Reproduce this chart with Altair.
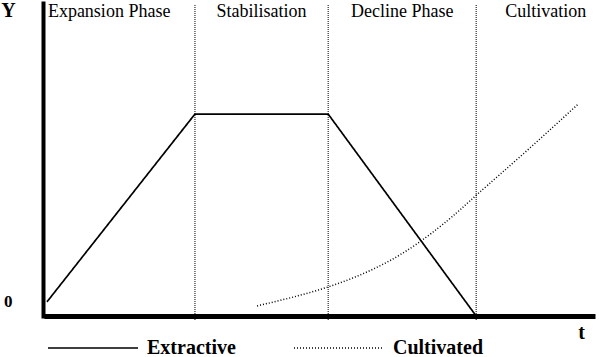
import altair as alt
import pandas as pd

# ---- data ----
phase_bounds = [10, 19, 29]
phase_names = ["Expansion Phase", "Stabilisation", "Decline Phase", "Cultivation"]
phase_label_t = [4.2, 14.5, 24.0, 33.7]

ext_t = [0, 10, 19, 29]
ext_y = [0.7, 10, 10, 0]

cul_t = [14.2, 19.0, 23.6, 27.1, 29.1, 32.4, 35.9]
cul_y = [0.5, 1.44, 2.92, 4.75, 6.04, 8.17, 10.5]

series = ["Extractive", "Cultivated"]
zero_level = 0.7
T_DOMAIN = [-0.2, 37.03]
Y_DOMAIN = [0, 15.5]

FONT = "Liberation Serif"

ext_df = pd.DataFrame({"t": ext_t, "Y": ext_y, "series": "Extractive"})
cul_df = pd.DataFrame({"t": cul_t, "Y": cul_y, "series": "Cultivated"})
bounds_df = pd.DataFrame({"t": phase_bounds})
labels_df = pd.DataFrame({"t": phase_label_t, "name": phase_names})

x_enc = alt.X(
    "t:Q",
    scale=alt.Scale(domain=T_DOMAIN, nice=False, zero=False),
    axis=alt.Axis(
        title="t", labels=False, ticks=False, tickSize=0, grid=False,
        domainColor="black", domainWidth=5,
        titleFont=FONT, titleFontSize=20, titleFontWeight="bold", titleColor="black",
        titleAngle=0, titleX=537, titleY=22, titleBaseline="alphabetic", titleAlign="center",
    ),
)
y_enc = alt.Y(
    "Y:Q",
    scale=alt.Scale(domain=Y_DOMAIN, nice=False),
    axis=alt.Axis(
        title="Y", values=[zero_level], labelExpr="'0'", ticks=False, tickSize=0, grid=False,
        labelPadding=31, labelFont=FONT, labelFontSize=17, labelFontWeight="bold", labelColor="black",
        domainColor="black", domainWidth=4, domainCap="square", offset=1,
        titleFont=FONT, titleFontSize=20, titleFontWeight="bold", titleColor="black",
        titleAngle=0, titleX=-35, titleY=13, titleBaseline="alphabetic", titleAlign="center",
    ),
)
dash_enc = alt.StrokeDash(
    "series:N",
    scale=alt.Scale(domain=series, range=[[1, 0], [1, 2]]),
    legend=alt.Legend(
        title=None, orient="none", legendX=3, legendY=299, direction="horizontal",
        symbolType="stroke", symbolSize=8100, symbolStrokeWidth=1.5, symbolStrokeColor="black",
        labelFont=FONT, labelFontSize=20, labelFontWeight="bold", labelColor="black",
        labelOffset=8, columnPadding=55, padding=0, labelLimit=0,
    ),
)

dividers = alt.Chart(bounds_df).mark_rule(color="black", strokeWidth=1, strokeDash=[1, 1]).encode(
    x=x_enc, y=alt.value(2), y2=alt.value(318)
)

ext_line = alt.Chart(ext_df).mark_line(color="black", strokeWidth=1.7).encode(
    x=x_enc, y=y_enc, strokeDash=dash_enc
)

cul_line = alt.Chart(cul_df).mark_line(color="black", strokeWidth=1.5, interpolate="natural").encode(
    x=x_enc, y=y_enc, strokeDash=dash_enc
)

labels = alt.Chart(labels_df).mark_text(
    font=FONT, fontSize=18, color="black", baseline="alphabetic", align="center"
).encode(x=x_enc, y=alt.value(14), text="name:N")

chart = alt.layer(dividers, ext_line, cul_line, labels).properties(
    width=551, height=313,
    padding={"left": 44, "top": 3, "right": 4, "bottom": 41},
    autosize="none",
    background="white",
).configure_view(stroke=None)

chart.save("out.html", embed_options={"renderer": "svg", "actions": False})
